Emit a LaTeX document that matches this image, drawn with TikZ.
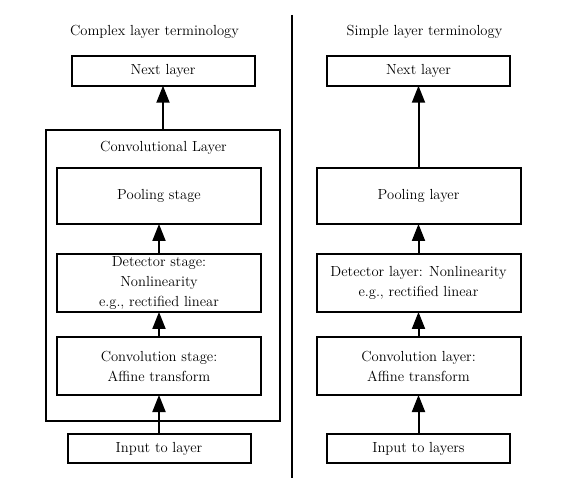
\documentclass[tikz,border=0pt]{standalone}
\usepackage{fontspec}
\usetikzlibrary{arrows.meta}
\begin{document}
\begin{tikzpicture}[x=1pt,y=-1pt,
  every node/.style={font=\fontsize{14.6}{20}\selectfont, inner sep=0pt},
  box/.style={draw, line width=2pt, rectangle, align=center},
  wide/.style={box, minimum width=204pt},
  narrow/.style={box, minimum width=183pt, minimum height=29.5pt},
  conn/.style={line width=2pt, -{Triangle[width=13pt,length=17pt]}, shorten >=-1pt}
]
\useasboundingbox (0,0) rectangle (565,478);
% divider
\coordinate (dtop) at (291.7,15);
\coordinate (dbot) at (291.7,478);
\draw[line width=2pt] (dtop) -- (dbot);
% titles
\node (tL) at (154.5,32) {Complex layer terminology};
\node (tR) at (424.5,32) {Simple layer terminology};
% left column
\node[narrow] (nextL) at (163,71) {Next layer};
\node[box, minimum width=234pt, minimum height=291pt] (outer) at (163,275.5) {};
\node (clab) at (163.5,148) {Convolutional Layer};
\node[wide, minimum height=56pt] (poolL) at (159,196) {Pooling stage};
\node[wide, minimum height=58pt] (detL) at (159,283) {Detector stage:\\Nonlinearity\\e.g., rectified linear};
\node[wide, minimum height=58pt] (convL) at (159,366) {Convolution stage:\\Affine transform};
\node[narrow] (inL) at (159,448.5) {Input to layer};
\draw[conn] (inL.north) -- (inL.north |- convL.south);
\draw[conn] (convL.north) -- (detL.south);
\draw[conn] (detL.north) -- (poolL.south);
\draw[conn] (outer.north) -- (nextL.south);
% right column
\node[narrow] (nextR) at (418.5,71) {Next layer};
\node[wide, minimum height=56pt] (poolR) at (418.5,196) {Pooling layer};
\node[wide, minimum height=58pt] (detR) at (418.5,283) {Detector layer: Nonlinearity\\e.g., rectified linear};
\node[wide, minimum height=58pt] (convR) at (418.5,366) {Convolution layer:\\Affine transform};
\node[narrow] (inR) at (418.5,448.5) {Input to layers};
\draw[conn] (inR.north) -- (convR.south);
\draw[conn] (convR.north) -- (detR.south);
\draw[conn] (detR.north) -- (poolR.south);
\draw[conn] (poolR.north) -- (nextR.south);
\end{tikzpicture}
\end{document}
